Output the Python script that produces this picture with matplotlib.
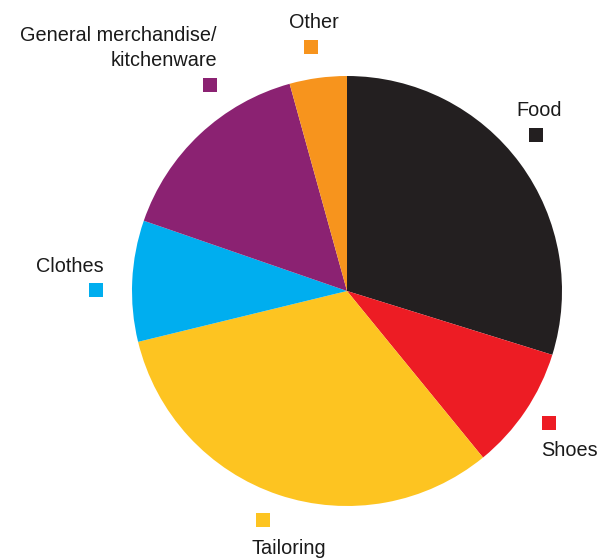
import matplotlib.pyplot as plt

labels = ["Food", "Shoes", "Tailoring", "Clothes", "General merchandise/\nkitchenware", "Other"]
shares = [29.8, 9.3, 32.1, 9.1, 15.4, 4.3]
colors = ["#231f20", "#ed1c24", "#fdc421", "#00aeef", "#8b2272", "#f7941d"]

W, H = 607, 558
fig = plt.figure(figsize=(W / 100, H / 100), dpi=100)
ax = fig.add_axes([0, 0, 1, 1])

ax.pie(shares, colors=colors, startangle=90, counterclock=False,
       center=(347, H - 291), radius=215, frame=True)
ax.set_xlim(0, W)
ax.set_ylim(0, H)
ax.set_aspect("equal")
ax.axis("off")

# label text position, alignment, square marker position (pixels from top-left)
lab_pos = [
    ((539, 111), "center", (536, 135)),
    ((569, 451), "center", (549, 423)),
    ((289, 548), "center", (263, 520)),
    ((70, 266), "center", (96, 290)),
    ((217, 48), "right", (210, 85)),
    ((314, 22), "center", (311, 47)),
]

for name, col, (tp, ha, sp) in zip(labels, colors, lab_pos):
    ax.text(tp[0], H - tp[1], name, ha=ha, va="center", fontsize=14.3,
            family="Liberation Sans", color="#1a1a1a", linespacing=1.45)
    ax.scatter(sp[0], H - sp[1], marker="s", s=90, color=col, linewidths=0)

fig.savefig("out.png", dpi=100)
